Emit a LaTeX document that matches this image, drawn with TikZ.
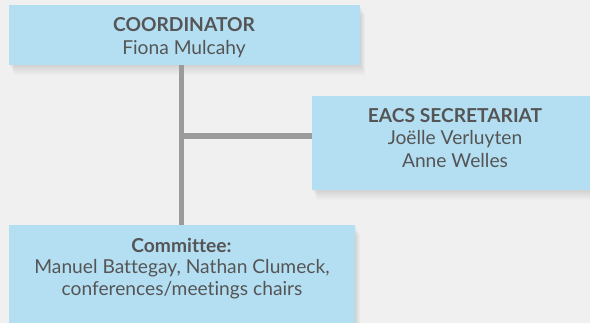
\documentclass[tikz,border=0pt]{standalone}
\usepackage{fontspec}
\setmainfont[Ligatures=NoCommon]{Lato}
\definecolor{bg}{HTML}{F0F0F0}
\definecolor{boxblue}{HTML}{B4DFF2}
\definecolor{txtgray}{HTML}{555555}
\definecolor{linegray}{HTML}{9B9B9B}
\begin{document}
\begin{tikzpicture}[x=1pt,y=-1pt,
  box/.style={draw=none, fill=boxblue, rectangle, inner sep=0pt},
  head/.style={anchor=base, inner sep=0pt, text=txtgray, font=\fontsize{19.2}{23}\selectfont\bfseries},
  body/.style={anchor=base, inner sep=0pt, text=txtgray, font=\fontsize{19.2}{23}\selectfont},
  conn/.style={draw=linegray, line width=5.3pt}]
\useasboundingbox (0,0) rectangle (590,323);
\fill[bg] (0,0) rectangle (590,323);
% soft shadows
\foreach \d in {1,2,...,10}{
  \fill[black, opacity=0.012] (9+\d*0.5,5+\d) rectangle (360+\d*0.5,65+\d);
  \fill[black, opacity=0.012] (312+\d*0.5,96+\d) rectangle (598,190+\d);
  \fill[black, opacity=0.012] (9+\d*0.5,225+\d) rectangle (355+\d*0.5,330);
}
\node[box, minimum width=351pt, minimum height=60pt] (coord) at (184.5,35) {};
\node[box, minimum width=286pt, minimum height=94pt] (sec) at (455,143) {};
\node[box, minimum width=346pt, minimum height=105pt] (comm) at (182,277.5) {};
% connectors
\coordinate (vx) at (181.3,0);
\coordinate (j) at (181.3,136);
\draw[conn] (coord.south -| vx) -- (comm.north -| vx);
\draw[conn] (j) -- (j -| sec.west);
% texts
\node[head] (t1) at (184,31.7) {COORDINATOR};
\node[body] (t2) at (184,54.2) {Fiona Mulcahy};
\node[head] (t3) at (455,122.3) {EACS SECRETARIAT};
\node[body] (t4) at (455,145) {Joëlle Verluyten};
\node[body] (t5) at (455,167.5) {Anne Welles};
\node[head] (t6) at (181.5,252.3) {Committee:};
\node[body] (t7) at (182,274) {Manuel Battegay, Nathan Clumeck,};
\node[body] (t8) at (182,295.7) {conferences/meetings chairs};
\end{tikzpicture}
\end{document}
